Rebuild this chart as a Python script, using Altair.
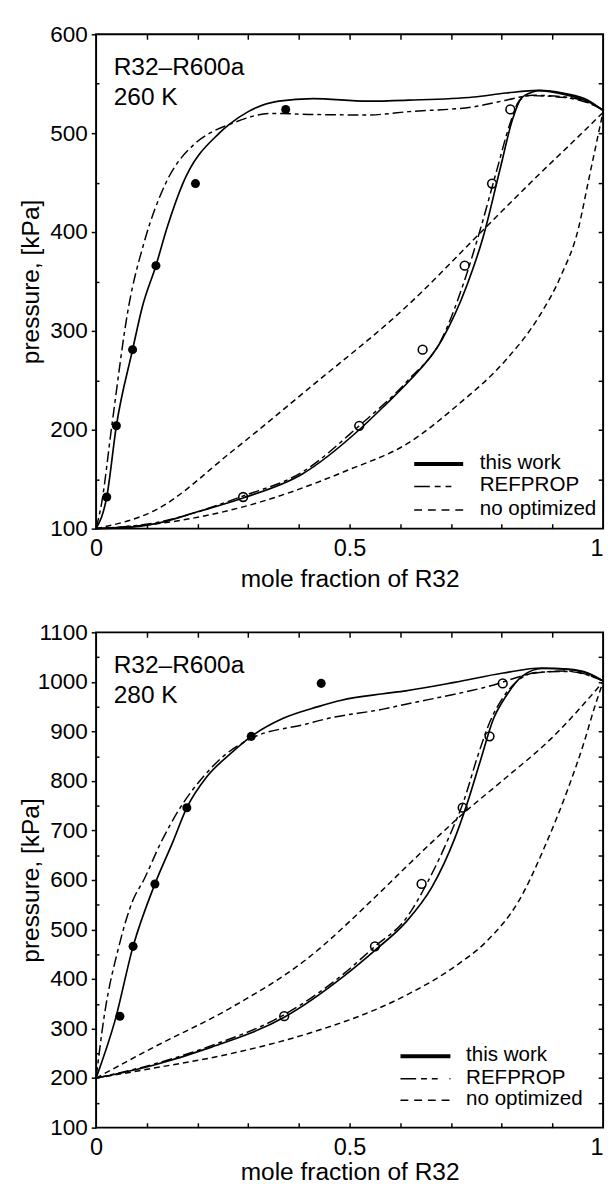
import altair as alt
import pandas as pd

# ---------------- 260 K panel data (x = mole fraction R32, p = kPa) ----------------
t260_this_up_x = [0, 0.021, 0.040, 0.072, 0.091, 0.118, 0.141, 0.171, 0.243, 0.262, 0.30, 0.36, 0.428, 0.535, 0.617, 0.745, 0.809, 0.873, 0.925, 0.97, 1.0]
t260_this_up_p = [100, 132, 204, 281, 324, 366, 406, 449, 500, 508.6, 521.8, 532.4, 535, 532.4, 533.4, 536.6, 540.6, 543.3, 540, 533.4, 523]
t260_this_lo_x = [0, 0.06, 0.118, 0.2, 0.29, 0.406, 0.519, 0.572, 0.617, 0.681, 0.732, 0.764, 0.796, 0.822, 0.838, 0.861, 0.873, 0.925, 0.97, 1.0]
t260_this_lo_p = [100, 101, 105, 117, 131, 155, 200, 226, 249, 290, 347, 396, 462, 515, 535, 541.6, 543, 539, 532, 523]
t260_ref_up_x = [0, 0.011, 0.031, 0.064, 0.095, 0.137, 0.194, 0.224, 0.262, 0.345, 0.42, 0.535, 0.617, 0.745, 0.809, 0.861, 0.925, 0.976, 1.0]
t260_ref_up_p = [100, 126, 204, 324, 390, 449, 489, 500, 508.6, 520, 519, 518.4, 521.8, 526.7, 533.4, 538.3, 536.6, 530, 523.5]
t260_ref_lo_x = [0, 0.118, 0.29, 0.406, 0.519, 0.617, 0.681, 0.726, 0.758, 0.79, 0.816, 0.835, 0.854, 0.925, 0.976, 1.0]
t260_ref_lo_p = [100, 106, 133, 157, 204, 251, 291, 350, 403, 462, 509, 533, 538, 536, 529.5, 523.5]
t260_noopt_up_x = [0, 0.118, 0.269, 0.42, 0.617, 0.771, 0.873, 0.938, 1.0]
t260_noopt_up_p = [100, 119, 178.5, 242, 327, 406, 458, 490, 521]
t260_noopt_lo_x = [0, 0.15, 0.29, 0.496, 0.617, 0.713, 0.809, 0.873, 0.918, 0.951, 0.970, 0.986, 1.0]
t260_noopt_lo_p = [100, 107, 122, 159, 187, 225, 271, 314, 357, 403, 449, 488, 522]
t260_filled_x = [0.021, 0.040, 0.072, 0.118, 0.196, 0.374]
t260_open_x = [0.290, 0.519, 0.644, 0.727, 0.781, 0.817]
t260_exp_p = [132, 204, 281, 366, 449, 524]

# ---------------- 280 K panel data ----------------
t280_this_up_x = [0, 0.037, 0.073, 0.116, 0.151, 0.179, 0.218, 0.264, 0.306, 0.368, 0.438, 0.484, 0.566, 0.611, 0.707, 0.803, 0.88, 0.931, 0.97, 1.0]
t280_this_up_p = [200, 315, 466, 592, 676, 746, 808, 854, 890, 926, 950, 963, 976, 982, 999, 1018, 1028, 1026, 1018, 1002]
t280_this_lo_x = [0, 0.113, 0.226, 0.371, 0.49, 0.55, 0.611, 0.662, 0.707, 0.732, 0.758, 0.784, 0.809, 0.841, 0.88, 0.931, 0.97, 1.0]
t280_this_lo_p = [200, 226, 262, 323, 407, 458, 515, 585, 683, 755, 841, 926, 972, 1012, 1027, 1025, 1017, 1002]
t280_ref_up_x = [0, 0.016, 0.045, 0.073, 0.094, 0.128, 0.166, 0.211, 0.249, 0.306, 0.415, 0.452, 0.566, 0.611, 0.707, 0.771, 0.867, 0.931, 1.0]
t280_ref_up_p = [200, 325, 466, 560, 600, 676, 746, 808, 848, 886, 915, 925, 945, 955, 975, 990, 1018, 1022, 1002]
t280_ref_lo_x = [0, 0.113, 0.226, 0.371, 0.49, 0.55, 0.611, 0.655, 0.70, 0.726, 0.752, 0.777, 0.803, 0.828, 0.867, 0.931, 1.0]
t280_ref_lo_p = [200, 228, 265, 328, 412, 466, 522, 598, 696, 762, 848, 920, 969, 999, 1019, 1021, 1002]
t280_noopt_up_x = [0, 0.113, 0.264, 0.415, 0.55, 0.611, 0.726, 0.803, 0.899, 1.0]
t280_noopt_up_p = [200, 262, 341, 440, 565, 626, 736, 802, 887, 1000]
t280_noopt_lo_x = [0, 0.113, 0.264, 0.415, 0.566, 0.611, 0.707, 0.771, 0.835, 0.886, 0.931, 0.963, 0.982, 1.0]
t280_noopt_lo_p = [200, 220, 249, 289, 345, 367, 425, 477, 560, 670, 785, 880, 945, 1000]
t280_filled_x = [0.047, 0.073, 0.116, 0.179, 0.306, 0.444]
t280_open_x = [0.371, 0.550, 0.642, 0.723, 0.776, 0.802]
t280_exp_p = [325, 466, 592, 746, 890, 997]

legend_labels = ["this work", "REFPROP", "no optimized"]

W = 518
FONT = "Liberation Sans"


def curves_df(curves):
    rows = []
    for name, xs, ps in curves:
        for i, (x, p) in enumerate(zip(xs, ps)):
            rows.append({"branch": name, "x": x, "p": p, "i": i})
    return pd.DataFrame(rows)


def one():
    return alt.Data(values=[{"k": 0}])


def panel(this_c, ref_c, noopt_c, fx, ox, ep, ymin, ymax, h, temp, leg, title_y, anchor):
    xs = alt.Scale(domain=[0, 1], nice=False, zero=False)
    ys = alt.Scale(domain=[ymin, ymax], nice=False, zero=False)
    major = list(range(ymin, ymax + 1, 100))
    every50 = list(range(ymin + 50, ymax, 50))
    half = list(range(ymin + 50, ymax, 100))
    tenths = [round(0.1 * k, 1) for k in range(1, 10)]
    base = dict(grid=False, domain=False, tickColor="black", tickWidth=1.5)

    l1 = alt.Chart(curves_df(this_c)).mark_line(
        color="black", strokeWidth=1.7, interpolate="monotone").encode(
        x=alt.X("x:Q", scale=xs, axis=alt.Axis(
            orient="bottom", values=[0, 0.5, 1], format="~g", tickSize=0,
            labelFontSize=24, labelPadding=8, labelColor="black", labelFlush=False,
            labelAlign={"condition": {"test": "datum.value >= 1", "value": "right"}, "value": "center"},
            title="mole fraction of R32", titleFontSize=25, titleFontWeight="normal",
            titleColor="black", titleY=title_y, titleBaseline="alphabetic", **base)),
        y=alt.Y("p:Q", scale=ys, axis=alt.Axis(
            orient="left", values=major, format="d", tickSize=5, labelFontSize=23, labelPadding=4,
            labelColor="black", title="pressure, [kPa]", titleFontSize=25,
            titleFontWeight="normal", titleColor="black", titleX=-67, titleY=h / 2,
            titleAngle=270, titleBaseline="middle", titleAlign="center", **base)),
        detail="branch:N", order="i:Q")

    l2 = alt.Chart(curves_df(ref_c)).mark_line(
        color="black", strokeWidth=1.5, strokeDash=[11, 4, 4, 4], interpolate="monotone").encode(
        x=alt.X("x:Q", scale=xs, axis=alt.Axis(
            orient="bottom", offset=-h, values=tenths, tickSize=5, labels=False, title="", **base)),
        y=alt.Y("p:Q", scale=ys, axis=alt.Axis(
            orient="left", offset=-W, values=every50, tickSize=5, labels=False, title="", **base)),
        detail="branch:N", order="i:Q")

    l3 = alt.Chart(curves_df(noopt_c)).mark_line(
        color="black", strokeWidth=1.5, strokeDash=[6, 4], interpolate="monotone").encode(
        x=alt.X("x:Q", scale=xs, axis=alt.Axis(
            orient="top", offset=-h, values=tenths, tickSize=5, labels=False, title="", **base)),
        y=alt.Y("p:Q", scale=ys, axis=alt.Axis(
            orient="right", offset=-W, values=half, tickSize=3, labels=False, title="", **base)),
        detail="branch:N", order="i:Q")

    pts_f = alt.Chart(pd.DataFrame({"x": fx, "p": ep})).mark_point(
        filled=True, shape="circle", size=85, color="black", opacity=1).encode(
        x=alt.X("x:Q", scale=xs, axis=None), y=alt.Y("p:Q", scale=ys, axis=None))
    pts_o = alt.Chart(pd.DataFrame({"x": ox, "p": ep})).mark_point(
        filled=False, shape="circle", size=80, color="black", strokeWidth=1.6, opacity=1).encode(
        x=alt.X("x:Q", scale=xs, axis=None), y=alt.Y("p:Q", scale=ys, axis=None))

    lx0, lx1, tx, rows = leg
    dashes = [None, [16, 5, 6, 5, 6, 12], [8, 6]]
    widths = [4, 1.6, 1.6]
    layers = [l1, l2, l3, pts_f, pts_o]
    for k in range(3):
        mk = dict(color="black", strokeWidth=widths[k])
        if dashes[k] is not None:
            mk["strokeDash"] = dashes[k]
        layers.append(alt.Chart(one()).mark_rule(**mk).encode(
            x=alt.value(lx0), x2=alt.value(lx1), y=alt.value(rows[k])))
        layers.append(alt.Chart(one()).mark_text(
            text=legend_labels[k], align="left", baseline="middle", fontSize=21,
            color="black", font=FONT).encode(x=alt.value(tx), y=alt.value(rows[k] - 1)))

    layers.append(alt.Chart(one()).mark_text(
        text="R32\u2013R600a", align="left", baseline="alphabetic", fontSize=25,
        color="black", font=FONT).encode(x=alt.value(18), y=alt.value(42)))
    layers.append(alt.Chart(one()).mark_text(
        text=temp, align="left", baseline="alphabetic", fontSize=25,
        color="black", font=FONT).encode(x=alt.value(18), y=alt.value(72)))

    if anchor:
        # invisible anchor fixing the top-left extent of the drawing
        layers.append(alt.Chart(one()).mark_rule(color="white", strokeOpacity=0, strokeWidth=0.1).encode(
            x=alt.value(-89), x2=alt.value(-89), y=alt.value(-13), y2=alt.value(0)))

    return alt.layer(*layers).resolve_axis(x="independent", y="independent").properties(
        width=W, height=h)


top = panel(
    [("up", t260_this_up_x, t260_this_up_p), ("lo", t260_this_lo_x, t260_this_lo_p)],
    [("up", t260_ref_up_x, t260_ref_up_p), ("lo", t260_ref_lo_x, t260_ref_lo_p)],
    [("up", t260_noopt_up_x, t260_noopt_up_p), ("lo", t260_noopt_lo_x, t260_noopt_lo_p)],
    t260_filled_x, t260_open_x, t260_exp_p, 100, 600, 505, "260 K",
    (325, 375, 392, [439, 462, 486]), 59, True)

bottom = panel(
    [("up", t280_this_up_x, t280_this_up_p), ("lo", t280_this_lo_x, t280_this_lo_p)],
    [("up", t280_ref_up_x, t280_ref_up_p), ("lo", t280_ref_lo_x, t280_ref_lo_p)],
    [("up", t280_noopt_up_x, t280_noopt_up_p), ("lo", t280_noopt_lo_x, t280_noopt_lo_p)],
    t280_filled_x, t280_open_x, t280_exp_p, 100, 1100, 506, "280 K",
    (311, 362, 378, [433, 456, 478]), 53, False)

chart = alt.vconcat(top, bottom, spacing=106, bounds="flush").properties(
    padding={"left": 0, "top": 0, "right": 0, "bottom": 0},
).configure(font=FONT).configure_view(stroke="black", strokeWidth=2)

chart.save("out.html", embed_options={"renderer": "svg", "actions": False})
